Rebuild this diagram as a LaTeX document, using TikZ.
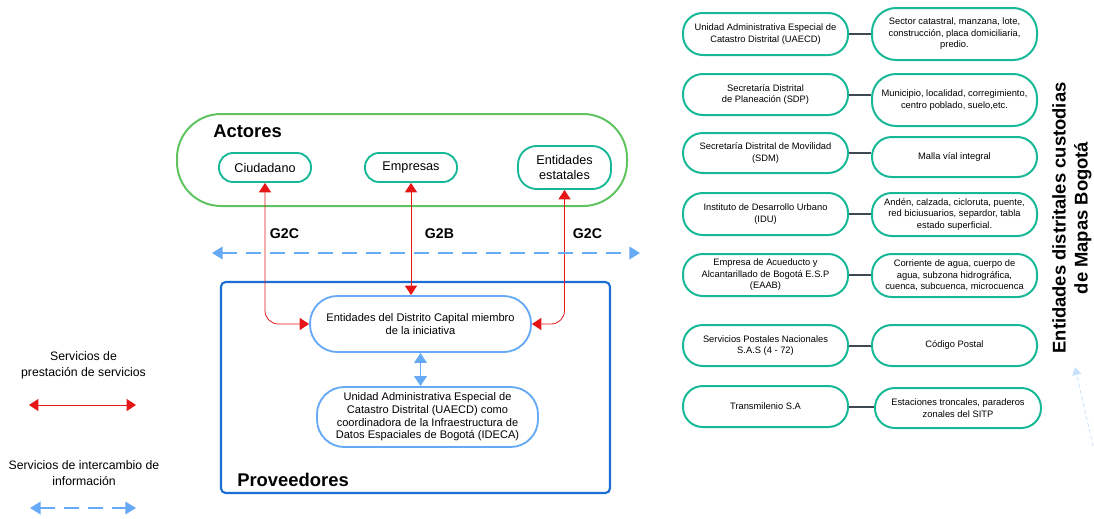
\documentclass[tikz,border=0pt]{standalone}
\usepackage{fontspec}
\setmainfont{Liberation Sans}
\usetikzlibrary{arrows.meta}
\definecolor{tealc}{RGB}{22,184,152}
\definecolor{greenc}{RGB}{95,196,95}
\definecolor{provblue}{RGB}{28,110,215}
\definecolor{lblue}{RGB}{102,170,245}
\definecolor{redc}{RGB}{230,22,22}
\definecolor{connc}{RGB}{62,72,82}
\begin{document}
\begin{tikzpicture}[x=0.75pt,y=-0.75pt,
  px/.style 2 args={minimum width=#1*0.75pt,minimum height=#2*0.75pt},
  actbox/.style={draw=greenc,line width=1.5pt,rounded corners=33pt,inner sep=0pt},
  actor/.style={draw=tealc,line width=1.4pt,rounded corners=10.5pt,inner sep=0pt,align=center,font=\fontsize{9.5}{11.25}\selectfont},
  provbox/.style={draw=provblue,line width=1.6pt,rounded corners=3.5pt,inner sep=0pt},
  pnode/.style={draw=lblue,line width=1.4pt,rounded corners=20.5pt,inner sep=0pt,align=center},
  bigl/.style={anchor=west,inner sep=0pt,font=\bfseries\fontsize{13.8}{16}\selectfont},
  g2/.style={inner sep=0pt,font=\bfseries\fontsize{10.6}{12}\selectfont},
  legend/.style={inner sep=0pt,align=center,font=\fontsize{9.2}{12}\selectfont},
  ent/.style={draw=tealc,line width=1.5pt,rounded corners=14.8pt,inner sep=0pt,align=center,font=\fontsize{7}{8.6}\selectfont},
  conn/.style={draw=connc,line width=1.5pt},
  redarrow/.style={draw=redc,line width=0.6pt,{Triangle[length=7pt,width=9pt]}-{Triangle[length=7pt,width=9pt]}},
  bluedash/.style={draw=lblue,line width=1.3pt,dash pattern=on 11pt off 7pt,{Triangle[length=8pt,width=9.5pt]}-{Triangle[length=8pt,width=9.5pt]}},
  bluearr/.style={draw=lblue,line width=1.1pt,{Triangle[length=7.5pt,width=9.5pt]}-{Triangle[length=7.5pt,width=9.5pt]}},
  faint/.style={draw=lblue!35,line width=0.6pt,dash pattern=on 3pt off 2pt,-{Triangle[length=6pt,width=7pt]}}
]
\useasboundingbox (0,0) rectangle (1094,518);

% Actores
\node[actbox,px={450}{92}] (act) at (402,160) {};
\node[bigl] (actl) at (213,131) {Actores};
\node[actor,px={92}{29}] (ciu) at (265,167.5) {Ciudadano};
\node[actor,px={92}{29}] (emp) at (411,167.5) {Empresas};
\node[actor,px={93}{43},rounded corners=14pt] (est) at (564.5,167.5) {Entidades\\estatales};

% Proveedores
\node[provbox,px={389}{211}] (prov) at (415.5,387.5) {};
\node[bigl] (provl) at (237,480) {Proveedores};
\node[pnode,px={221}{56},font=\fontsize{8.3}{10}\selectfont] (edc) at (420.5,324) {Entidades del Distrito Capital miembro\\de la iniciativa};
\node[pnode,px={221}{60},font=\fontsize{8.3}{9.5}\selectfont] (ide) at (427.5,417) {Unidad Administrativa Especial de\\Catastro Distrital (UAECD) como\\coordinadora de la Infraestructura de\\Datos Espaciales de Bogotá (IDECA)};

% red arrows
\draw[redarrow,rounded corners=10pt] (ciu.south) |- (edc.west);
\draw[redarrow] (emp.south) -- (emp.south |- edc.north);
\draw[redarrow,rounded corners=10pt] (est.south) |- (edc.east);
\draw[bluearr] (edc.south) -- (edc.south |- ide.north);

\node[g2] (g2a) at (284.5,234) {G2C};
\node[g2] (g2b) at (439.5,234) {G2B};
\node[g2] (g2c) at (587.5,234) {G2C};

\coordinate (dl) at (212,253);
\coordinate (dr) at (640,253);
\draw[bluedash] (dl) -- (dr);

% legend
\node[legend] (lg1) at (83.5,365) {Servicios de\\prestación de servicios};
\coordinate (r1a) at (29,405);
\coordinate (r1b) at (136,405);
\draw[redarrow] (r1a) -- (r1b);
\node[legend] (lg2) at (84,473.5) {Servicios de intercambio de\\información};
\coordinate (b1a) at (30,508);
\coordinate (b1b) at (136,508);
\draw[bluedash] (b1a) -- (b1b);

% right side
\node[ent,px={165}{42}] (l1) at (765.5,34) {Unidad Administrativa Especial de\\Catastro Distrital (UAECD)};
\node[ent,px={165}{52},rounded corners=18pt] (r1) at (954.5,34) {Sector catastral, manzana, lote,\\construcción, placa domiciliaria,\\predio.};
\node[ent,px={165}{41}] (l2) at (765.5,94.5) {Secretaría Distrital\\de Planeación (SDP)};
\node[ent,px={165}{52},rounded corners=18pt] (r2) at (954.5,100) {Municipio, localidad, corregimiento,\\centro poblado, suelo,etc.};
\node[ent,px={165}{40}] (l3) at (765.5,153) {Secretaría Distrital de Movilidad\\(SDM)};
\node[ent,px={165}{40}] (r3) at (954.5,157) {Malla víal integral};
\node[ent,px={165}{42}] (l4) at (765.5,214) {Instituto de Desarrollo Urbano\\(IDU)};
\node[ent,px={165}{43}] (r4) at (954.5,214.5) {Andén, calzada, cicloruta, puente,\\red biciusuarios, separdor, tabla\\estado superficial.};
\node[ent,px={165}{42}] (l5) at (765.5,275) {Empresa de Acueducto y\\Alcantarillado de Bogotá E.S.P\\(EAAB)};
\node[ent,px={165}{43}] (r5) at (954.5,275.5) {Corriente de agua, cuerpo de\\agua, subzona hidrográfica,\\cuenca, subcuenca, microcuenca};
\node[ent,px={165}{41}] (l6) at (765.5,345.5) {Servicios Postales Nacionales\\S.A.S (4 - 72)};
\node[ent,px={165}{41}] (r6) at (954.5,345.5) {Código Postal};
\node[ent,px={165}{41}] (l7) at (765.5,406.5) {Transmilenio S.A};
\node[ent,px={166}{40}] (r7) at (958,408) {Estaciones troncales, paraderos\\zonales del SITP};

\foreach \i in {1,...,7}{\draw[conn] (l\i.east) -- (l\i.east -| r\i.west);}

\node[rotate=90,align=center,inner sep=0pt,font=\bfseries\fontsize{13.8}{16.5}\selectfont] (title) at (1072,218) {Entidades distritales custodias\\de Mapas Bogotá};

\coordinate (fa) at (1093,446);
\coordinate (fb) at (1075,367);
\draw[faint] (fa) -- (fb);
\end{tikzpicture}
\end{document}
